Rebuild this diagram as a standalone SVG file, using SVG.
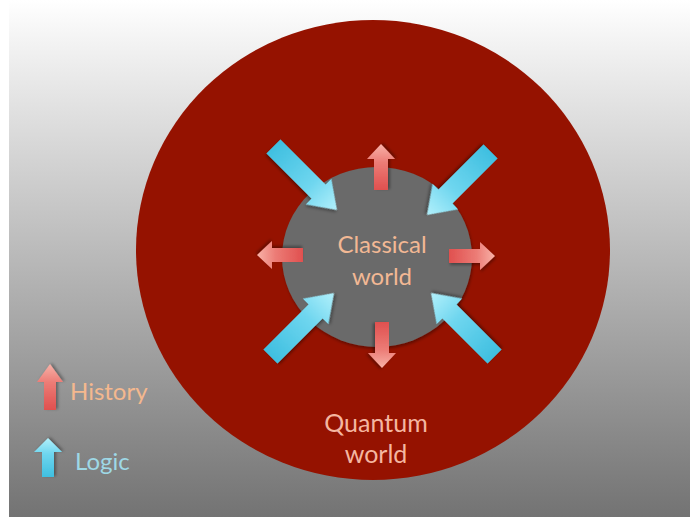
<svg xmlns="http://www.w3.org/2000/svg" width="690" height="517" viewBox="0 0 690 517">
  <defs>
    <linearGradient id="bg" x1="0" y1="0" x2="0" y2="1">
      <stop offset="0" stop-color="#ffffff"/>
      <stop offset="0.08" stop-color="#f3f3f3"/>
      <stop offset="1" stop-color="#737373"/>
    </linearGradient>
    <linearGradient id="blueG" x1="0" y1="0" x2="1" y2="0">
      <stop offset="0" stop-color="#3fbfe0"/>
      <stop offset="0.6" stop-color="#6fd6ef"/>
      <stop offset="1" stop-color="#b2f0fb"/>
    </linearGradient>
    <linearGradient id="redG" x1="0" y1="0" x2="1" y2="0">
      <stop offset="0" stop-color="#e0504f"/>
      <stop offset="0.6" stop-color="#ec7c76"/>
      <stop offset="1" stop-color="#f8b2a8"/>
    </linearGradient>
    <filter id="sh" x="-20%" y="-20%" width="140%" height="140%">
      <feDropShadow dx="1" dy="2" stdDeviation="1.5" flood-color="#000" flood-opacity="0.35"/>
    </filter>
    <path id="blueArrow" d="M -90,-10 L -26,-10 L -26,-18 L 0,0 L -26,18 L -26,10 L -90,10 Z"/>
    <path id="redArrow" d="M -46,-7 L -15,-7 L -15,-14 L 0,0 L -15,14 L -15,7 L -46,7 Z"/>
  </defs>
  <style>
    .lbl { font-family: Lato, "Open Sans", "Liberation Sans", sans-serif; text-anchor: middle; }
    .blue { fill: url(#blueG); filter: url(#sh); }
    .red { fill: url(#redG); filter: url(#sh); }
  </style>

  <rect x="0" y="0" width="690" height="517" fill="#ffffff"/>
  <rect x="9" y="0" width="681" height="517" fill="url(#bg)"/>

  <g id="quantum">
    <ellipse cx="373" cy="250" rx="237" ry="230" fill="#951200"/>
    <text class="lbl" x="376" y="432" font-size="25" fill="#f4b6a0">Quantum</text>
    <text class="lbl" x="376" y="463" font-size="25" fill="#f4b6a0">world</text>
  </g>

  <g id="classical">
    <ellipse cx="377" cy="257" rx="95" ry="90" fill="#6a6a6a" filter="url(#sh)"/>
    <text class="lbl" x="382" y="253" font-size="24" fill="#f2b894">Classical</text>
    <text class="lbl" x="382" y="285" font-size="24" fill="#f2b894">world</text>
  </g>

  <g id="arrows">
    <use href="#blueArrow" class="blue" transform="translate(337,210) rotate(45)"/>
    <use href="#blueArrow" class="blue" transform="translate(427,215) rotate(135)"/>
    <use href="#blueArrow" class="blue" transform="translate(334,293) rotate(-45)"/>
    <use href="#blueArrow" class="blue" transform="translate(431,293) rotate(-135)"/>
    <use href="#redArrow" class="red" transform="translate(381,144) rotate(-90)"/>
    <use href="#redArrow" class="red" transform="translate(257,255) rotate(180)"/>
    <use href="#redArrow" class="red" transform="translate(495,256)"/>
    <use href="#redArrow" class="red" transform="translate(382,368) rotate(90)"/>
  </g>

  <g id="legend-history">
    <path class="red" d="M -46,-6 L -18,-6 L -18,-13 L 0,0 L -18,13 L -18,6 L -46,6 Z" transform="translate(50,364) rotate(-90)"/>
    <text x="70" y="400" font-family="Lato, 'Open Sans', 'Liberation Sans', sans-serif" font-size="24" fill="#f4b88e">History</text>
  </g>

  <g id="legend-logic">
    <path class="blue" d="M -39,-6 L -14,-6 L -14,-14 L 0,0 L -14,14 L -14,6 L -39,6 Z" transform="translate(48,438) rotate(-90)"/>
    <text x="75" y="470" font-family="Lato, 'Open Sans', 'Liberation Sans', sans-serif" font-size="24" fill="#9ed8e6">Logic</text>
  </g>
</svg>
